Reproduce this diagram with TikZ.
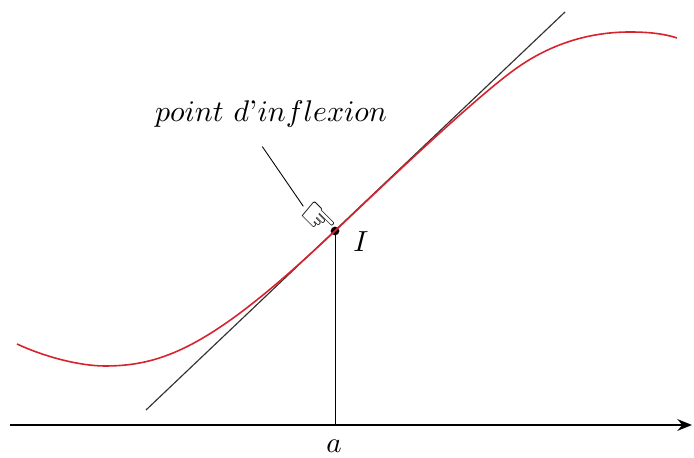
\documentclass[tikz,border=0pt]{standalone}
\usepackage{fontspec}
\newfontfamily\mainfont{DejaVu Sans}
\usetikzlibrary{arrows.meta}
\definecolor{rougecourbe}{RGB}{215,35,45}
\tikzset{
    axe/.style={-{Stealth[length=5pt, width=4pt]}, line width=0.8pt},
    tangente/.style={draw=black!80, line width=0.4pt},
    courbe/.style={draw=rougecourbe, line width=0.55pt},
    repere/.style={line width=0.3pt},
    pointI/.style={circle, fill=black, inner sep=0pt, minimum size=3pt},
}

\begin{document}
\begin{tikzpicture}[x=0.0121cm, y=-0.0121cm]
        \useasboundingbox (0,0) rectangle (694,458);

        % Axe
        \coordinate (xdeb) at (10,425);
        \coordinate (xfin) at (692,425);
        \draw[axe] (xdeb) -- (xfin);

        % Point d'inflexion
        \node[pointI] (I) at (335,231) {};
        \coordinate (pied) at (335,425);
        \node (lettreI) at (361,242) {$I$};
        \node (lettrea) at (334,446) {$a$};
        \draw[repere] (I.center) -- (pied);

        % Tangente
        \coordinate (tdeb) at (146,410);
        \coordinate (tfin) at (565,12);
        \draw[tangente] (tdeb) -- (tfin);

        % Courbe
        \draw[courbe] (17,344) .. controls (45,357) and (80,366) .. (105,366)
            .. controls (165,366) and (215,344.5) .. (I.center)
            .. controls (395,174) and (474,99.2) .. (514,70)
            .. controls (554,40.8) and (595,32) .. (630,32)
            .. controls (650,32) and (665,34) .. (677,38);

        % Legende
        \node[scale=1.03] (texte) at (271,114) {$point\ d$'$inflexion$};
        \node[rotate=-45, inner sep=0pt, font=\mainfont\Large] (main) at (317,220) {☞};
        \draw[repere] ([xshift=-3pt, yshift=-3pt]texte.south) -- (main.west);
    \end{tikzpicture}
\end{document}
